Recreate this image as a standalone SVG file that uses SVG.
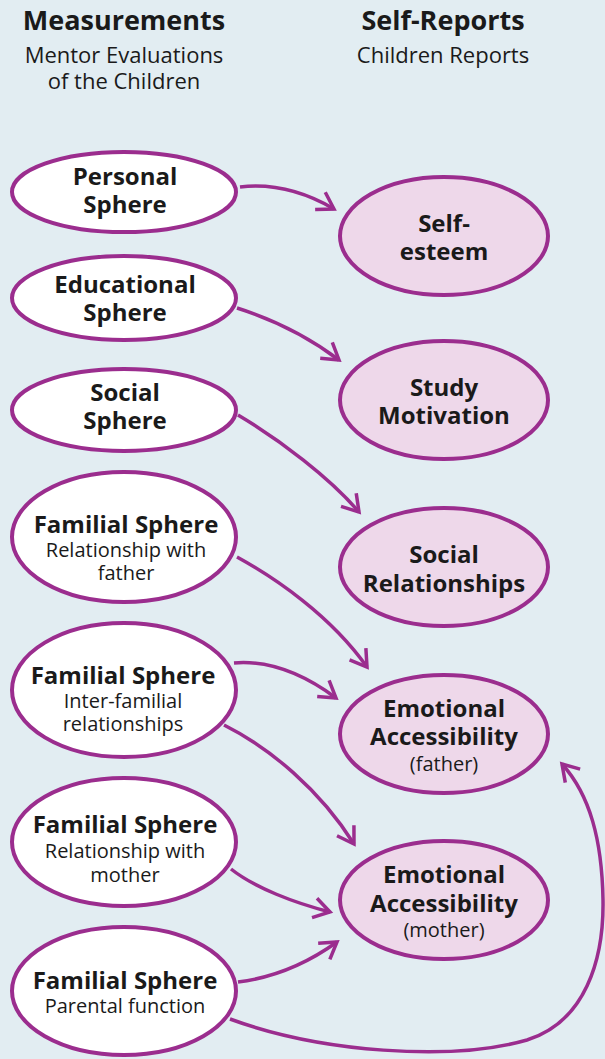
<svg xmlns="http://www.w3.org/2000/svg" width="605" height="1059" viewBox="0 0 605 1059">
<style>
.bg{fill:#e2edf2}
.ln{fill:#fff;stroke:#9b2d8e;stroke-width:4}
.rn{fill:#eed8ea;stroke:#9b2d8e;stroke-width:4}
.c{fill:none;stroke:#9b2d8e;stroke-width:3.5}
text{font-family:"Open Sans","Liberation Sans",sans-serif;fill:#1a1a1a;text-anchor:middle}
.h{font-size:27px;font-weight:bold}
.hs{font-size:22px}
.b{font-size:24px;font-weight:bold}
.s{font-size:20px;font-weight:normal}
</style>
<defs>
<marker id="ah" markerUnits="userSpaceOnUse" viewBox="-22 -14 26 28" refX="0" refY="0" markerWidth="26" markerHeight="28" orient="auto">
<path d="M-16,-10 L0,0 L-16,10" fill="none" stroke="#9b2d8e" stroke-width="3.5"/>
</marker>
</defs>
<rect class="bg" x="0" y="0" width="605" height="1059"/>
<g id="headers">
<text class="h" x="124" y="30">Measurements</text>
<text class="hs" x="124" y="63">Mentor Evaluations<tspan x="124" dy="26">of the Children</tspan></text>
<text class="h" x="443" y="30">Self-Reports</text>
<text class="hs" x="443" y="63">Children Reports</text>
</g>
<g id="connectors">
<path class="c" marker-end="url(#ah)" d="M240,187 C275,183 305,192 334,209"/>
<path class="c" marker-end="url(#ah)" d="M237,308 C275,320 310,338 339,360"/>
<path class="c" marker-end="url(#ah)" d="M238,415 C280,440 330,478 359,512"/>
<path class="c" marker-end="url(#ah)" d="M237,557 C275,578 330,615 367,667"/>
<path class="c" marker-end="url(#ah)" d="M234,663 C270,660 305,675 336,698"/>
<path class="c" marker-end="url(#ah)" d="M224,725 C270,748 320,790 354,844"/>
<path class="c" marker-end="url(#ah)" d="M231,869 C255,888 295,903 330,912"/>
<path class="c" marker-end="url(#ah)" d="M238,982 C270,978 305,965 337,942"/>
<path class="c" marker-end="url(#ah)" d="M230,1019 C320,1052 450,1062 527,1040 C585,1022 604,960 603,900 C602,840 590,795 562,764"/>
</g>
<g id="personal">
<ellipse class="ln" cx="124" cy="192" rx="112" ry="40"/>
<text class="b" x="125" y="185">Personal<tspan x="125" dy="28">Sphere</tspan></text>
</g>
<g id="educational">
<ellipse class="ln" cx="124" cy="298" rx="112" ry="42"/>
<text class="b" x="125" y="293">Educational<tspan x="125" dy="28">Sphere</tspan></text>
</g>
<g id="social">
<ellipse class="ln" cx="124" cy="410" rx="112" ry="41"/>
<text class="b" x="125" y="401">Social<tspan x="125" dy="28">Sphere</tspan></text>
</g>
<g id="familial-father">
<ellipse class="ln" cx="124" cy="537" rx="112" ry="65"/>
<text class="b" x="126" y="533">Familial Sphere<tspan class="s" x="126" dy="24">Relationship with</tspan><tspan class="s" x="126" dy="23">father</tspan></text>
</g>
<g id="familial-inter">
<ellipse class="ln" cx="124" cy="690" rx="112" ry="67"/>
<text class="b" x="123" y="684">Familial Sphere<tspan class="s" x="123" dy="24">Inter-familial</tspan><tspan class="s" x="123" dy="23">relationships</tspan></text>
</g>
<g id="familial-mother">
<ellipse class="ln" cx="124" cy="842" rx="112" ry="64"/>
<text class="b" x="125" y="833">Familial Sphere<tspan class="s" x="125" dy="25">Relationship with</tspan><tspan class="s" x="125" dy="24">mother</tspan></text>
</g>
<g id="familial-parental">
<ellipse class="ln" cx="124" cy="991" rx="112" ry="64"/>
<text class="b" x="125" y="989">Familial Sphere<tspan class="s" x="125" dy="24">Parental function</tspan></text>
</g>
<g id="self-esteem">
<ellipse class="rn" cx="444" cy="236" rx="104" ry="59"/>
<text class="b" x="444" y="232">Self-<tspan x="444" dy="28">esteem</tspan></text>
</g>
<g id="study-motivation">
<ellipse class="rn" cx="444" cy="400" rx="104" ry="59"/>
<text class="b" x="444" y="396">Study<tspan x="444" dy="28">Motivation</tspan></text>
</g>
<g id="social-relationships">
<ellipse class="rn" cx="444" cy="567" rx="104" ry="59"/>
<text class="b" x="444" y="563">Social<tspan x="444" dy="29">Relationships</tspan></text>
</g>
<g id="emotional-father">
<ellipse class="rn" cx="444" cy="734" rx="104" ry="59"/>
<text class="b" x="444" y="717">Emotional<tspan x="444" dy="28">Accessibility</tspan><tspan class="s" x="444" dy="26">(father)</tspan></text>
</g>
<g id="emotional-mother">
<ellipse class="rn" cx="444" cy="900" rx="104" ry="59"/>
<text class="b" x="444" y="883">Emotional<tspan x="444" dy="29">Accessibility</tspan><tspan class="s" x="444" dy="25">(mother)</tspan></text>
</g>
</svg>
